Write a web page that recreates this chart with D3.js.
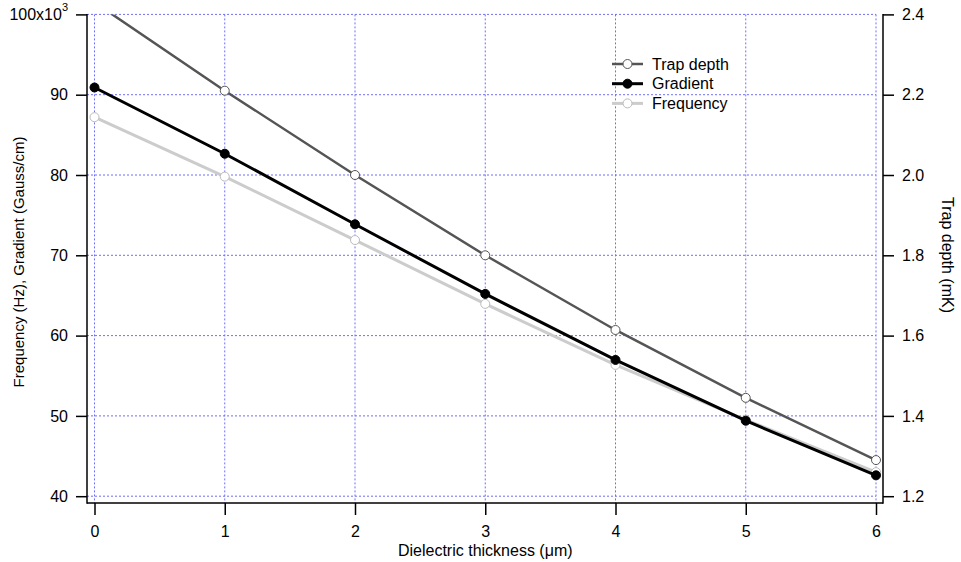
<!DOCTYPE html>
<html>
<head>
<meta charset="utf-8">
<script src="https://cdn.jsdelivr.net/npm/d3@7"></script>
<style>
    body { margin: 0; background: #fff; }
    svg text { font-family: "Liberation Sans", Arial, sans-serif; fill: #000; }
</style>
</head>
<body>
<svg id="chart" width="961" height="562"></svg>
<script>
// data
var thickness = [0, 1, 2, 3, 4, 5, 6];
var trapDepth = [2.43, 2.21, 2.0, 1.80, 1.614, 1.445, 1.29];
var gradient = [90.9, 82.65, 73.86, 65.19, 56.97, 49.4, 42.6];
var frequency = [87.2, 79.8, 71.9, 63.95, 56.35, 49.5, 43.0];

var xTicks = [0, 1, 2, 3, 4, 5, 6];
var leftTicks = [40, 50, 60, 70, 80, 90, 100];
var rightTicks = [1.2, 1.4, 1.6, 1.8, 2.0, 2.2, 2.4];

var series = [
    { name: 'Trap depth', values: trapDepth, axis: 'right', color: '#555555', width: 2.5, filled: false, dot: '#555555' },
    { name: 'Gradient', values: gradient, axis: 'left', color: '#000000', width: 3, filled: true, dot: '#000000' },
    { name: 'Frequency', values: frequency, axis: 'left', color: '#cccccc', width: 3, filled: false, dot: '#bbbbbb' }
];

var FONT = '16px';

var svg = d3.select('#chart');

// frame edges (axes are offset a bit from the data area)
var frameLeft = 87, frameRight = 883, frameTop = 14.4, frameBottom = 503;

var x = d3.scaleLinear().domain([0, 6]).range([94.5, 876]);
var yLeft = d3.scaleLinear().domain([40, 100]).range([496.2, 14.4]);
var yRight = d3.scaleLinear().domain([1.2, 2.4]).range([496.2, 14.4]);

// grid
var grid = svg.append('g').attr('stroke', '#6f6fff').attr('stroke-width', 1).attr('stroke-dasharray', '2,2');
xTicks.forEach(function(t) {
    grid.append('line')
        .attr('x1', x(t)).attr('x2', x(t))
        .attr('y1', frameTop).attr('y2', frameBottom);
});
leftTicks.forEach(function(t) {
    grid.append('line')
        .attr('x1', frameLeft).attr('x2', x(6))
        .attr('y1', yLeft(t)).attr('y2', yLeft(t));
});

// axes
function styleAxis(g) {
    g.select('.domain').remove();
    g.selectAll('.tick line').attr('stroke', '#000').attr('stroke-width', 1.5);
    g.selectAll('.tick text').attr('font-size', FONT).attr('font-family', '"Liberation Sans", Arial, sans-serif');
}

var bottomAxis = svg.append('g')
    .attr('transform', 'translate(0,' + frameBottom + ')')
    .call(d3.axisBottom(x).tickValues(xTicks).tickSize(12).tickPadding(11).tickFormat(d3.format('d')));
styleAxis(bottomAxis);

var leftAxis = svg.append('g')
    .attr('transform', 'translate(' + frameLeft + ',0)')
    .call(d3.axisLeft(yLeft).tickValues(leftTicks).tickSize(11).tickPadding(8)
        .tickFormat(function(d) { return d == 100 ? '' : d; }));
styleAxis(leftAxis);

// top label with exponent
var topLabel = leftAxis.append('text')
    .attr('x', -19).attr('y', yLeft(100) + 6)
    .attr('text-anchor', 'end')
    .attr('font-size', FONT)
    .style('fill', '#000');
topLabel.append('tspan').text('100x10');
topLabel.append('tspan').attr('dy', -9).attr('font-size', '11px').text('3');

var rightAxis = svg.append('g')
    .attr('transform', 'translate(' + frameRight + ',0)')
    .call(d3.axisRight(yRight).tickValues(rightTicks).tickSize(11).tickPadding(8).tickFormat(d3.format('.1f')));
styleAxis(rightAxis);

// axis lines
var frame = svg.append('g').attr('stroke', '#000').attr('stroke-width', 1.5).attr('fill', 'none');
frame.append('line').attr('x1', frameLeft).attr('x2', frameLeft).attr('y1', frameTop - 0.5).attr('y2', frameBottom + 0.75);
frame.append('line').attr('x1', frameRight).attr('x2', frameRight).attr('y1', frameTop - 0.5).attr('y2', frameBottom + 0.75);
frame.append('line').attr('x1', frameLeft).attr('x2', frameRight).attr('y1', frameBottom).attr('y2', frameBottom);

// axis titles
svg.append('text')
    .attr('transform', 'translate(24,262) rotate(-90)')
    .attr('text-anchor', 'middle')
    .attr('font-size', '15px')
    .text('Frequency (Hz), Gradient (Gauss/cm)');

svg.append('text')
    .attr('transform', 'translate(942,255) rotate(90)')
    .attr('text-anchor', 'middle')
    .attr('font-size', FONT)
    .text('Trap depth (mK)');

svg.append('text')
    .attr('x', x(3)).attr('y', 556)
    .attr('text-anchor', 'middle')
    .attr('font-size', FONT)
    .text('Dielectric thickness (\u03bcm)');

// clip data to the frame
svg.append('clipPath').attr('id', 'plotclip')
    .append('rect')
    .attr('x', frameLeft).attr('y', frameTop)
    .attr('width', frameRight - frameLeft).attr('height', frameBottom - frameTop);

var plot = svg.append('g').attr('clip-path', 'url(#plotclip)');

// draw back to front: frequency, gradient, trap depth
series.slice().reverse().forEach(function(s) {
    var yScale = s.axis == 'right' ? yRight : yLeft;
    var line = d3.line()
        .x(function(d, i) { return x(thickness[i]); })
        .y(function(d) { return yScale(d); });

    plot.append('path')
        .datum(s.values)
        .attr('fill', 'none')
        .attr('stroke', s.color)
        .attr('stroke-width', s.width)
        .attr('d', line);

    plot.selectAll(null)
        .data(s.values)
        .enter().append('circle')
        .attr('cx', function(d, i) { return x(thickness[i]); })
        .attr('cy', function(d) { return yScale(d); })
        .attr('r', 4.5)
        .attr('fill', s.filled ? s.dot : '#fff')
        .attr('stroke', s.dot)
        .attr('stroke-width', 1);
});

// legend
var legend = svg.append('g').attr('transform', 'translate(612,64)');
series.forEach(function(s, i) {
    var row = legend.append('g').attr('transform', 'translate(0,' + (i * 19.7) + ')');
    row.append('line')
        .attr('x1', 0).attr('x2', 31)
        .attr('stroke', s.color)
        .attr('stroke-width', s.width);
    row.append('circle')
        .attr('cx', 15.5).attr('cy', 0).attr('r', 4.5)
        .attr('fill', s.filled ? s.dot : '#fff')
        .attr('stroke', s.dot)
        .attr('stroke-width', 1);
    row.append('text')
        .attr('x', 40).attr('y', 5.5)
        .attr('font-size', FONT)
        .text(s.name);
});
</script>
</body>
</html>
